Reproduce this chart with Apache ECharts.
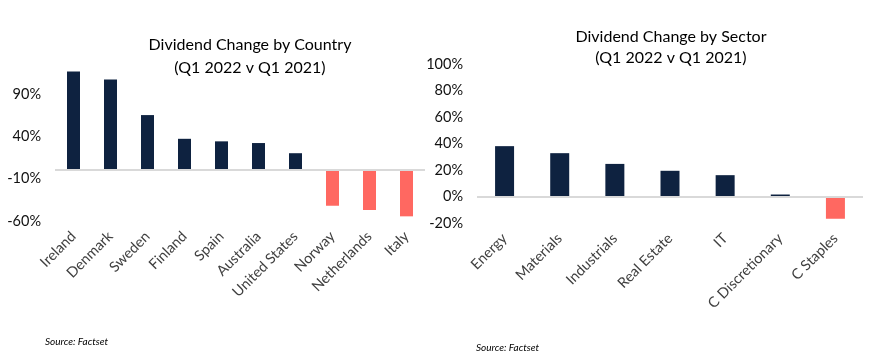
<!DOCTYPE html>
<html>
<head>
<meta charset="utf-8">
<script src="https://cdn.jsdelivr.net/npm/echarts@6/dist/echarts.min.js"></script>
<style>html,body{margin:0;padding:0;background:#fff;}#c{width:890px;height:364px;}</style>
</head>
<body>
<div id="c"></div>
<script>
const countryCategories = ['Ireland','Denmark','Sweden','Finland','Spain','Australia','United States','Norway','Netherlands','Italy'];
const countryValues = [116.5, 107, 65, 37, 34, 32, 20, -42, -47, -54.5];
const countryTicks = [-60, -10, 40, 90];

const sectorCategories = ['Energy','Materials','Industrials','Real Estate','IT','C Discretionary','C Staples'];
const sectorValues = [38, 32.7, 24.6, 19.4, 16.1, 1.5, -16.8];
const sectorTicks = [-20, 0, 20, 40, 60, 80, 100];

const NAVY = '#0e2240', RED = '#ff6861';
const FONT = 'Lato, "Open Sans", sans-serif';
const colorFn = p => p.value >= 0 ? NAVY : RED;
const zeroLine = {
  silent: true, symbol: 'none', label: {show: false},
  lineStyle: {color: '#d9d9d9', width: 2, type: 'solid'},
  data: [{yAxis: 0}]
};

const chart = echarts.init(document.getElementById('c'), null, {renderer: 'canvas'});
chart.setOption({
  animation: false,
  backgroundColor: '#fff',
  textStyle: {fontFamily: FONT},
  title: [
    {text: 'Dividend Change by Country\n(Q1 2022 v Q1 2021)', left: 245, top: 28, textAlign: 'center',
     textStyle: {fontFamily: FONT, fontSize: 16, fontWeight: 'normal', color: '#000', lineHeight: 23}},
    {text: 'Dividend Change by Sector\n(Q1 2022 v Q1 2021)', left: 666, top: 21, textAlign: 'center',
     textStyle: {fontFamily: FONT, fontSize: 16, fontWeight: 'normal', color: '#000', lineHeight: 21}}
  ],
  grid: [
    {left: 55, right: 465, top: 60, bottom: 143},
    {left: 477, right: 27, top: 64, bottom: 141}
  ],
  xAxis: [
    {type: 'category', gridIndex: 0, data: countryCategories,
     axisLine: {show: false, onZero: false}, axisTick: {show: false},
     axisLabel: {rotate: 45, margin: 13, fontSize: 14.5, color: '#404040', fontFamily: FONT, interval: 0}},
    {type: 'category', gridIndex: 1, data: sectorCategories,
     axisLine: {show: false, onZero: false}, axisTick: {show: false},
     axisLabel: {rotate: 45, margin: 13, fontSize: 14.5, color: '#404040', fontFamily: FONT, interval: 0}}
  ],
  yAxis: [
    {type: 'value', gridIndex: 0, min: countryTicks[0], max: 130, interval: 50,
     splitLine: {show: false}, axisLine: {show: false}, axisTick: {show: false},
     axisLabel: {margin: 14, fontSize: 14.5, color: '#111', fontFamily: FONT, showMaxLabel: false,
       formatter: v => countryTicks.includes(v) ? v + '%' : ''}},
    {type: 'value', gridIndex: 1, min: sectorTicks[0], max: sectorTicks[sectorTicks.length - 1], interval: 20,
     splitLine: {show: false}, axisLine: {show: false}, axisTick: {show: false},
     axisLabel: {margin: 14, fontSize: 14.5, color: '#111', fontFamily: FONT, formatter: v => v + '%'}}
  ],
  series: [
    {type: 'bar', xAxisIndex: 0, yAxisIndex: 0, data: countryValues, barWidth: 13,
     itemStyle: {color: colorFn}, markLine: zeroLine},
    {type: 'bar', xAxisIndex: 1, yAxisIndex: 1, data: sectorValues, barWidth: 19,
     itemStyle: {color: colorFn}, markLine: zeroLine}
  ],
  graphic: [
    {type: 'text', left: 45, top: 337, style: {text: 'Source: Factset', font: 'italic 10px ' + FONT, fill: '#000'}},
    {type: 'text', left: 476, top: 343, style: {text: 'Source: Factset', font: 'italic 10px ' + FONT, fill: '#000'}}
  ]
});
</script>
</body>
</html>
